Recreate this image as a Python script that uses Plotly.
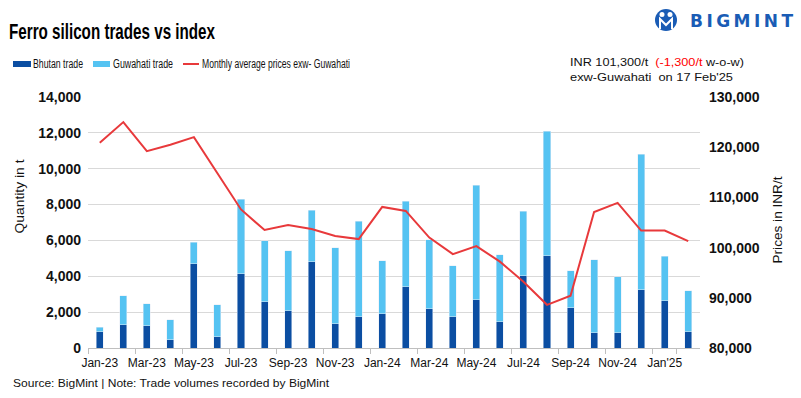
import json
import plotly.graph_objects as go

months = ["Jan-23", "Feb-23", "Mar-23", "Apr-23", "May-23", "Jun-23", "Jul-23", "Aug-23",
          "Sep-23", "Oct-23", "Nov-23", "Dec-23", "Jan-24", "Feb-24", "Mar-24", "Apr-24",
          "May-24", "Jun-24", "Jul-24", "Aug-24", "Sep-24", "Oct-24", "Nov-24", "Dec-24",
          "Jan-25", "Feb-25"]
bhutan = [910, 1300, 1240, 460, 4690, 630, 4130, 2580, 2080, 4800, 1350, 1740, 1910,
          3410, 2190, 1740, 2690, 1470, 4020, 5140, 2240, 850, 850, 3250, 2630, 910]
guwahati = [240, 1610, 1220, 1110, 1220, 1780, 4170, 3390, 3340, 2890, 4230, 5340, 2950,
            4780, 3840, 2840, 6400, 3730, 3620, 6950, 2060, 4060, 3120, 7560, 2500, 2280]
prices = [120900, 125000, 119200, 120500, 122000, 114800, 107600, 103500, 104500, 103700,
          102300, 101700, 108100, 107300, 102000, 98700, 100300, 97200, 93200, 88600,
          90400, 107100, 108900, 103400, 103400, 101300]
tick_months = months[::2]
tick_labels = ["Jan-23", "Mar-23", "May-23", "Jul-23", "Sep-23", "Nov-23", "Jan-24",
               "Mar-24", "May-24", "Jul-24", "Sep-24", "Nov-24", "Jan'25"]

C_BHU = "#0B4EA2"
C_GUW = "#55C3F2"
C_RED = "#E8393B"
FONT = "Liberation Sans, Arial, sans-serif"

W, H = 801, 398
L, R, T, B = 88, 101, 97, 50
PW, PH = W - L - R, H - T - B


def px(x):
    return (x - L) / PW


def py(y):
    return (H - B - y) / PH


fig = go.Figure()
fig.add_trace(go.Bar(x=months, y=bhutan, name="Bhutan trade", marker_color=C_BHU))
fig.add_trace(go.Bar(x=months, y=guwahati, name="Guwahati trade", marker_color=C_GUW))
fig.add_trace(go.Scatter(x=months, y=prices, name="Monthly average prices exw- Guwahati",
                         mode="lines", line=dict(color=C_RED, width=2), yaxis="y2"))

shapes = []
ann = []
fit = []  # (text prefix, target width px, lengthAdjust)

# title
ann.append(dict(text="<b>Ferro silicon trades vs index</b>", x=px(7), y=py(31),
                xanchor="left", yanchor="middle", font=dict(size=22, color="#000")))
fit.append(("Ferro silicon", 206, "spacingAndGlyphs"))

# legend (manual)
legend_items = [("rect", C_BHU, 13, 31, "Bhutan trade", 31, 50),
                ("rect", C_GUW, 93, 110, "Guwahati trade", 111, 60),
                ("line", C_RED, 183, 199, "Monthly average prices exw- Guwahati", 200, 148)]
ly = 64
for kind, col, x0, x1, label, tx, tw in legend_items:
    if kind == "rect":
        shapes.append(dict(type="rect", xref="paper", yref="paper", x0=px(x0), x1=px(x1),
                           y0=py(ly + 3), y1=py(ly - 3), fillcolor=col, line=dict(width=0)))
    else:
        shapes.append(dict(type="line", xref="paper", yref="paper", x0=px(x0), x1=px(x1),
                           y0=py(ly), y1=py(ly), line=dict(color=col, width=2)))
    ann.append(dict(text=label, x=px(tx), y=py(ly), xanchor="left", yanchor="middle",
                    font=dict(size=12.5, color="#111")))
    fit.append((label, tw, "spacingAndGlyphs"))

# price note
ann.append(dict(text="INR 101,300/t  <span style='color:#FF0000'>(-1,300/t</span> w-o-w)",
                x=px(568), y=py(62), xanchor="left", yanchor="middle",
                font=dict(size=11.5, color="#111")))
fit.append(("INR 101,300", 174, "spacingAndGlyphs"))
ann.append(dict(text="exw-Guwahati  on 17 Feb'25", x=px(568), y=py(77), xanchor="left",
                yanchor="middle", font=dict(size=11.5, color="#111")))
fit.append(("exw-Guwahati", 163, "spacingAndGlyphs"))

# logo
LOGO = "#1A5CB5"
shapes.append(dict(type="circle", xref="paper", yref="paper", x0=px(655), x1=px(677),
                   y0=py(31), y1=py(9), fillcolor=LOGO, line=dict(width=0)))
for cx in (662, 670):
    shapes.append(dict(type="circle", xref="paper", yref="paper", x0=px(cx - 2.5),
                       x1=px(cx + 2.5), y0=py(17), y1=py(12), fillcolor="white",
                       line=dict(width=0)))
shapes.append(dict(type="path", xref="paper", yref="paper",
                   path="M {} {} L {} {} L {} {} L {} {} L {} {}".format(
                       px(660), py(29), px(660), py(19), px(666), py(25), px(672), py(19),
                       px(672), py(29)),
                   line=dict(color="white", width=2)))
ann.append(dict(text="<b>BIGMINT</b>", x=px(688), y=py(21), xanchor="left", yanchor="middle",
                font=dict(family="DejaVu Sans, sans-serif", size=17, color=LOGO)))
fit.append(("BIGMINT", 103, "spacing"))

# axis titles
ann.append(dict(text="Quantity in t", x=px(19.5), y=py(200), textangle=-90, xanchor="center",
                yanchor="middle", font=dict(size=12.5, color="#111")))
fit.append(("Quantity in t", 74, "spacingAndGlyphs"))
ann.append(dict(text="Prices in INR/t", x=px(777), y=py(223.5), textangle=-90,
                xanchor="center", yanchor="middle", font=dict(size=12.5, color="#111")))
fit.append(("Prices in INR/t", 87, "spacingAndGlyphs"))

# source
ann.append(dict(text="Source: BigMint | Note: Trade volumes recorded by BigMint", x=px(11),
                y=py(383), xanchor="left", yanchor="middle",
                font=dict(size=11, color="#111")))
fit.append(("Source: BigMint", 316, "spacingAndGlyphs"))

for a in ann:
    a.update(xref="paper", yref="paper", showarrow=False, align="left")
    a["font"].setdefault("family", FONT)

fig.update_layout(
    width=W, height=H, margin=dict(l=L, r=R, t=T, b=B, autoexpand=False),
    barmode="stack", bargap=0.7, showlegend=False,
    paper_bgcolor="white", plot_bgcolor="white",
    font=dict(family=FONT, size=12, color="#111"),
    shapes=shapes, annotations=ann,
    xaxis=dict(type="category", tickmode="array", tickvals=tick_months, ticktext=tick_labels,
               tickson="boundaries", ticks="outside", ticklen=5, tickcolor="#BFBFBF",
               tickangle=0, showline=True, linecolor="#BFBFBF", linewidth=1, showgrid=False,
               tickfont=dict(size=12, color="#111"), range=[-0.5, 25.5],
               ticklabelstandoff=4),
    yaxis=dict(range=[0, 14000], dtick=2000, tickformat=",d", showgrid=True,
               gridcolor="#D9D9D9", gridwidth=1, zeroline=False, showline=False,
               tickfont=dict(size=14, color="#111", weight="bold"), ticklabelstandoff=6),
    yaxis2=dict(range=[80000, 130000], dtick=10000, tickformat=",d", overlaying="y",
                side="right", showgrid=False, zeroline=False, showline=False,
                tickfont=dict(size=14, color="#111", weight="bold"), ticklabelstandoff=8),
)

post = """
document.body.style.margin = '0';
document.body.style.overflow = 'hidden';
var FIT = %s;
function fitText() {
  document.querySelectorAll('text.annotation-text').forEach(function (t) {
    var s = t.textContent;
    FIT.forEach(function (f) {
      if (s.indexOf(f[0]) === 0) {
        t.setAttribute('textLength', f[1]);
        t.setAttribute('lengthAdjust', f[2]);
      }
    });
  });
}
fitText();
var gd = document.getElementById('{plot_id}');
if (gd && gd.on) { gd.on('plotly_afterplot', fitText); }
""" % json.dumps(fit)

fig.write_html("out.html", post_script=post, config={"displayModeBar": False})
